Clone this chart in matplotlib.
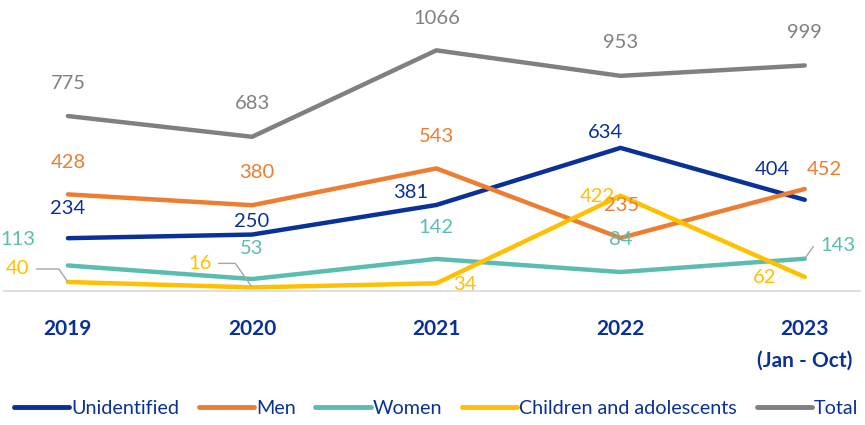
import matplotlib
matplotlib.use("Agg")
import matplotlib.pyplot as plt

plt.rcParams['font.family'] = ['Lato', 'DejaVu Sans']

categories = ["2019", "2020", "2021", "2022", "2023\n(Jan - Oct)"]
unidentified = [234, 250, 381, 634, 404]
men = [428, 380, 543, 235, 452]
women = [113, 53, 142, 84, 143]
children = [40, 16, 34, 422, 62]
total = [775, 683, 1066, 953, 999]

series = [
    ("Unidentified", unidentified, "#0A3197"),
    ("Men", men, "#ED7D31"),
    ("Women", women, "#5BBDB1"),
    ("Children and adolescents", children, "#FFC000"),
    ("Total", total, "#808080"),
]

# label offsets in pixels (dx, dy) relative to each point
offsets = {
    "Unidentified": [(0, 30), (0, 13), (-26, 12), (-15, 15), (-32, 30)],
    "Men": [(0, 32), (5, 33), (0, 32), (1, 32), (20, 19)],
    "Women": [(-50, 26), (0, 31), (0, 31), (0, 33), (33, 13)],
    "Children and adolescents": [(-50, 13), (-52, 24), (29, -1), (-23, -1), (-40, 0)],
    "Total": [(0, 33), (0, 33), (0, 32), (0, 33), (0, 33)],
}
leaders = {("Children and adolescents", 0): 125,
           ("Children and adolescents", 1): 125,
           ("Women", 4): 55}

fig = plt.figure(figsize=(8.65, 4.25), dpi=100)
ax = fig.add_axes([4/865, 1 - 291/425, 856/865, 291/425])
x = list(range(len(categories)))

for name, vals, color in series:
    ax.plot(x, vals, color=color, lw=3.2, label=name, solid_capstyle='round',
            solid_joinstyle='round')
    for i, v in enumerate(vals):
        dx, dy = offsets[name][i]
        kw = {}
        if (name, i) in leaders:
            kw['arrowprops'] = dict(arrowstyle='-', color='#A6A6A6', lw=1.0,
                                    shrinkA=3, shrinkB=1,
                                    connectionstyle='angle,angleA=0,angleB=%d,rad=0'
                                    % leaders[(name, i)])
        ax.annotate(str(v), (i, v), xytext=(dx, dy), textcoords='offset pixels',
                    ha='center', va='center', color=color, fontsize=14.5, **kw)

ax.set_xlim(-0.347, 4.30)
ax.set_ylim(0, 1289)
ax.set_xticks(x)
ax.set_xticklabels(categories, fontsize=15, fontweight='bold', color='#0A3197',
                   linespacing=1.75)
ax.tick_params(axis='x', length=0, pad=20)
ax.set_yticks([])
for s in ['top', 'right', 'left']:
    ax.spines[s].set_visible(False)
ax.spines['bottom'].set_color('#D9D9D9')
ax.spines['bottom'].set_linewidth(1.2)
ax.patch.set_alpha(0)

leg = fig.legend(loc='center', bbox_to_anchor=(436/865, 1 - 408/425), ncol=5, frameon=False,
                 fontsize=14.2, handlelength=2.8, handletextpad=0.1, columnspacing=1.0,
                 borderaxespad=0, borderpad=0)
for t in leg.get_texts():
    t.set_color('#0A3197')
for h in leg.get_lines():
    h.set_linewidth(3.5)

fig.savefig("out.png", dpi=100)
